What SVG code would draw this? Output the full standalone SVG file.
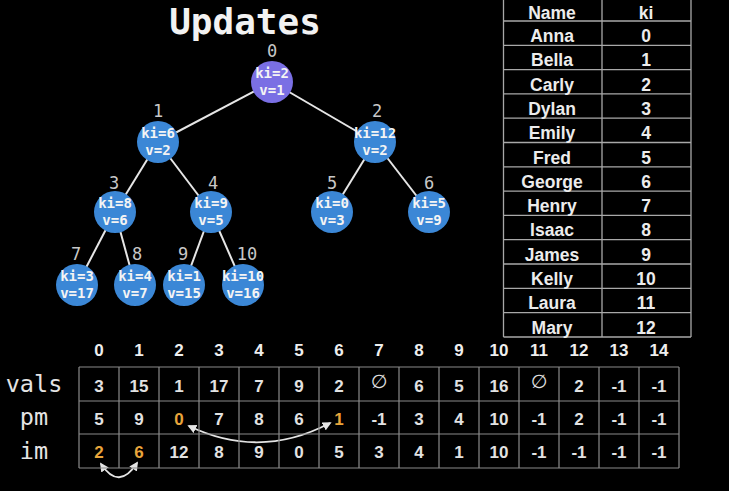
<svg xmlns="http://www.w3.org/2000/svg" width="729" height="491" viewBox="0 0 729 491">
<defs>
<style>
.title{font-family:"DejaVu Sans Mono",monospace;font-weight:bold;font-size:36px;fill:#f2f2f2;text-anchor:middle}
.idx{font-family:"DejaVu Sans Mono",monospace;font-size:17px;fill:#c8c8c8;text-anchor:middle}
.nt{font-family:"DejaVu Sans Mono",monospace;font-weight:bold;font-size:14px;fill:#f4f4f4;text-anchor:middle}
.blue{fill:#3b87d6}
.purple{fill:#7a6fe4}
.edge{stroke:#e6e6e6;stroke-width:2}
.tb{font-family:"Liberation Sans",Arial,sans-serif;font-weight:bold;font-size:17.5px;fill:#ececec;text-anchor:middle}
.tl{stroke:#a8a8a8;stroke-width:1.3;fill:none}
.gl{stroke:#8a8a8a;stroke-width:1.2;fill:none}
.rl{font-family:"DejaVu Sans Mono",monospace;font-size:23.5px;fill:#e4e4e4;text-anchor:middle}
.cv{font-family:"Liberation Sans",Arial,sans-serif;font-weight:bold;font-size:17px;fill:#e2e2e2;text-anchor:middle}
.ci{font-family:"Liberation Sans",Arial,sans-serif;font-weight:bold;font-size:17px;fill:#eeeeee;text-anchor:middle}
.hl{fill:#e9a53b}
.empty{font-family:"DejaVu Sans",sans-serif;font-size:19px;fill:#e2e2e2;text-anchor:middle}
.arr{stroke:#e4e4e4;stroke-width:1.8;fill:none;marker-start:url(#ah);marker-end:url(#ah)}
</style>
<marker id="ah" viewBox="0 0 10 10" refX="8" refY="5" markerWidth="9" markerHeight="9" markerUnits="userSpaceOnUse" orient="auto-start-reverse">
<path d="M0,0 L10,5 L0,10 z" fill="#e4e4e4"/>
</marker>
</defs>
<rect x="0" y="0" width="729" height="491" fill="#000"/>
<text class="title" x="245" y="34">Updates</text>

<g id="connectors">
<line class="edge" x1="272" y1="82" x2="158" y2="142"/>
<line class="edge" x1="272" y1="82" x2="375" y2="142"/>
<line class="edge" x1="158" y1="142" x2="115" y2="212"/>
<line class="edge" x1="158" y1="142" x2="211" y2="212"/>
<line class="edge" x1="375" y1="142" x2="332" y2="212"/>
<line class="edge" x1="375" y1="142" x2="429" y2="212"/>
<line class="edge" x1="115" y1="212" x2="77" y2="285"/>
<line class="edge" x1="115" y1="212" x2="135" y2="285"/>
<line class="edge" x1="211" y1="212" x2="184" y2="285"/>
<line class="edge" x1="211" y1="212" x2="243" y2="285"/>
<path class="arr" d="M189,426 Q260,460 330,423"/>
<path class="arr" d="M101,464 Q119,491 137,463"/>
</g>

<g id="node0"><text class="idx" x="272" y="57">0</text><circle class="purple" cx="272" cy="82" r="21"/><text class="nt" x="272" y="78">ki=2</text><text class="nt" x="272" y="95">v=1</text></g>
<g id="node1"><text class="idx" x="158" y="117">1</text><circle class="blue" cx="158" cy="142" r="21"/><text class="nt" x="158" y="138">ki=6</text><text class="nt" x="158" y="155">v=2</text></g>
<g id="node2"><text class="idx" x="377" y="117">2</text><circle class="blue" cx="375" cy="142" r="21"/><text class="nt" x="375" y="138">ki=12</text><text class="nt" x="375" y="155">v=2</text></g>
<g id="node3"><text class="idx" x="114" y="189">3</text><circle class="blue" cx="115" cy="212" r="21"/><text class="nt" x="115" y="208">ki=8</text><text class="nt" x="115" y="225">v=6</text></g>
<g id="node4"><text class="idx" x="213" y="189">4</text><circle class="blue" cx="211" cy="212" r="21"/><text class="nt" x="211" y="208">ki=9</text><text class="nt" x="211" y="225">v=5</text></g>
<g id="node5"><text class="idx" x="332" y="189">5</text><circle class="blue" cx="332" cy="212" r="21"/><text class="nt" x="332" y="208">ki=0</text><text class="nt" x="332" y="225">v=3</text></g>
<g id="node6"><text class="idx" x="429" y="189">6</text><circle class="blue" cx="429" cy="212" r="21"/><text class="nt" x="429" y="208">ki=5</text><text class="nt" x="429" y="225">v=9</text></g>
<g id="node7"><text class="idx" x="76" y="260">7</text><circle class="blue" cx="77" cy="285" r="21"/><text class="nt" x="77" y="281">ki=3</text><text class="nt" x="77" y="298">v=17</text></g>
<g id="node8"><text class="idx" x="137" y="260">8</text><circle class="blue" cx="135" cy="285" r="21"/><text class="nt" x="135" y="281">ki=4</text><text class="nt" x="135" y="298">v=7</text></g>
<g id="node9"><text class="idx" x="183" y="260">9</text><circle class="blue" cx="184" cy="285" r="21"/><text class="nt" x="184" y="281">ki=1</text><text class="nt" x="184" y="298">v=15</text></g>
<g id="node10"><text class="idx" x="247" y="260">10</text><circle class="blue" cx="243" cy="285" r="21"/><text class="nt" x="243" y="281">ki=10</text><text class="nt" x="243" y="298">v=16</text></g>

<g id="name-table">
<path class="tl" d="M503.5,-3 V337 M602,-3 V337 M691,-3 V337 M503.5,-3 H691 M503.5,21 H691 M503.5,45.3 H691 M503.5,69.6 H691 M503.5,93.9 H691 M503.5,118.2 H691 M503.5,142.5 H691 M503.5,166.8 H691 M503.5,191.1 H691 M503.5,215.4 H691 M503.5,239.7 H691 M503.5,264 H691 M503.5,288.3 H691 M503.5,312.6 H691 M503.5,337 H691"/>
<text class="tb" x="552" y="19">Name</text><text class="tb" x="646" y="19">ki</text>
<text class="tb" x="552" y="42">Anna</text><text class="tb" x="646" y="42">0</text>
<text class="tb" x="552" y="66.3">Bella</text><text class="tb" x="646" y="66.3">1</text>
<text class="tb" x="552" y="90.6">Carly</text><text class="tb" x="646" y="90.6">2</text>
<text class="tb" x="552" y="114.9">Dylan</text><text class="tb" x="646" y="114.9">3</text>
<text class="tb" x="552" y="139.2">Emily</text><text class="tb" x="646" y="139.2">4</text>
<text class="tb" x="552" y="163.5">Fred</text><text class="tb" x="646" y="163.5">5</text>
<text class="tb" x="552" y="187.8">George</text><text class="tb" x="646" y="187.8">6</text>
<text class="tb" x="552" y="212.1">Henry</text><text class="tb" x="646" y="212.1">7</text>
<text class="tb" x="552" y="236.4">Isaac</text><text class="tb" x="646" y="236.4">8</text>
<text class="tb" x="552" y="260.7">James</text><text class="tb" x="646" y="260.7">9</text>
<text class="tb" x="552" y="285">Kelly</text><text class="tb" x="646" y="285">10</text>
<text class="tb" x="552" y="309.3">Laura</text><text class="tb" x="646" y="309.3">11</text>
<text class="tb" x="552" y="333.6">Mary</text><text class="tb" x="646" y="333.6">12</text>
</g>

<g id="arrays">
<path class="gl" d="M79,367 H679 M79,401 H679 M79,434 H679 M79,468 H679 M79,367 V468 M119,367 V468 M159,367 V468 M199,367 V468 M239,367 V468 M279,367 V468 M319,367 V468 M359,367 V468 M399,367 V468 M439,367 V468 M479,367 V468 M519,367 V468 M559,367 V468 M599,367 V468 M639,367 V468 M679,367 V468"/>
<g id="col-index">
<text class="ci" x="99" y="356">0</text><text class="ci" x="139" y="356">1</text><text class="ci" x="179" y="356">2</text><text class="ci" x="219" y="356">3</text><text class="ci" x="259" y="356">4</text><text class="ci" x="299" y="356">5</text><text class="ci" x="339" y="356">6</text><text class="ci" x="379" y="356">7</text><text class="ci" x="419" y="356">8</text><text class="ci" x="459" y="356">9</text><text class="ci" x="499" y="356">10</text><text class="ci" x="539" y="356">11</text><text class="ci" x="579" y="356">12</text><text class="ci" x="619" y="356">13</text><text class="ci" x="659" y="356">14</text>
</g>
<text class="rl" x="34" y="392">vals</text>
<text class="rl" x="34" y="425">pm</text>
<text class="rl" x="34" y="459">im</text>
<g id="vals">
<text class="cv" x="99" y="392">3</text><text class="cv" x="139" y="392">15</text><text class="cv" x="179" y="392">1</text><text class="cv" x="219" y="392">17</text><text class="cv" x="259" y="392">7</text><text class="cv" x="299" y="392">9</text><text class="cv" x="339" y="392">2</text><text class="empty" x="379" y="388">∅</text><text class="cv" x="419" y="392">6</text><text class="cv" x="459" y="392">5</text><text class="cv" x="499" y="392">16</text><text class="empty" x="539" y="388">∅</text><text class="cv" x="579" y="392">2</text><text class="cv" x="619" y="392">-1</text><text class="cv" x="659" y="392">-1</text>
</g>
<g id="pm">
<text class="cv" x="99" y="425">5</text><text class="cv" x="139" y="425">9</text><text class="cv hl" x="179" y="425">0</text><text class="cv" x="219" y="425">7</text><text class="cv" x="259" y="425">8</text><text class="cv" x="299" y="425">6</text><text class="cv hl" x="339" y="425">1</text><text class="cv" x="379" y="425">-1</text><text class="cv" x="419" y="425">3</text><text class="cv" x="459" y="425">4</text><text class="cv" x="499" y="425">10</text><text class="cv" x="539" y="425">-1</text><text class="cv" x="579" y="425">2</text><text class="cv" x="619" y="425">-1</text><text class="cv" x="659" y="425">-1</text>
</g>
<g id="im">
<text class="cv hl" x="99" y="458">2</text><text class="cv hl" x="139" y="458">6</text><text class="cv" x="179" y="458">12</text><text class="cv" x="219" y="458">8</text><text class="cv" x="259" y="458">9</text><text class="cv" x="299" y="458">0</text><text class="cv" x="339" y="458">5</text><text class="cv" x="379" y="458">3</text><text class="cv" x="419" y="458">4</text><text class="cv" x="459" y="458">1</text><text class="cv" x="499" y="458">10</text><text class="cv" x="539" y="458">-1</text><text class="cv" x="579" y="458">-1</text><text class="cv" x="619" y="458">-1</text><text class="cv" x="659" y="458">-1</text>
</g>
</g>
</svg>
